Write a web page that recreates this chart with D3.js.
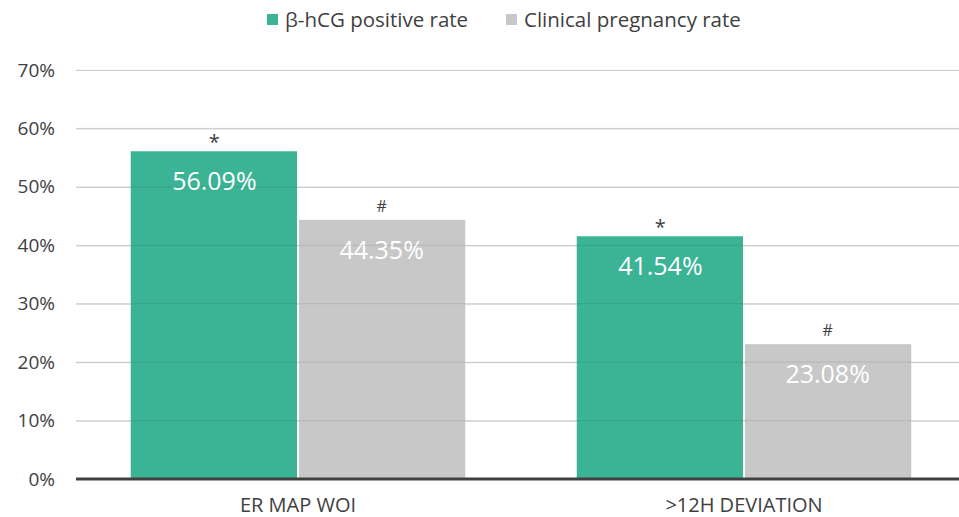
<!DOCTYPE html>
<html><head><meta charset="utf-8">
<script src="https://cdn.jsdelivr.net/npm/d3@7"></script>
<style>body{margin:0;background:#fff}svg{display:block}text{font-family:"Open Sans",sans-serif}</style>
</head><body><svg id="c" width="959" height="517"></svg>
<script>
const categories = ["ER MAP WOI", ">12H DEVIATION"];
const seriesNames = ["β-hCG positive rate", "Clinical pregnancy rate"];
const hcgValues = [56.09, 41.54];
const clinicalValues = [44.35, 23.08];
const markers = ["*", "#"];
const yTicks = [0, 10, 20, 30, 40, 50, 60, 70];
const colors = ["#3bb395", "#c8c8c8"];

const svg = d3.select("#c");
const W = 959, H = 517;
const y = d3.scaleLinear().domain([0, 70]).range([479, 70]);
const x0 = d3.scaleBand().domain(categories).range([75, 967]).paddingInner(0.25).paddingOuter(0.125);
const x1 = d3.scaleBand().domain([0, 1]).range([0, x0.bandwidth()]);

// grid
const gAxis = svg.append("g").attr("transform", "translate(76,0)")
  .call(d3.axisLeft(y).tickValues(yTicks).tickSize(-(W - 76)).tickFormat(d => d + "%"));
gAxis.select(".domain").remove();
gAxis.selectAll(".tick line").attr("stroke", "#d6d6d6").attr("stroke-width", 1.2);
gAxis.selectAll(".tick text").attr("x", -21).attr("fill", "#404040").style("font-size", "19px");

const data = categories.map((c, i) => ({cat: c, vals: [hcgValues[i], clinicalValues[i]]}));
const groups = svg.selectAll(".grp").data(data).enter().append("g")
  .attr("transform", d => `translate(${x0(d.cat)},0)`);
groups.selectAll("rect").data(d => d.vals.map((v, k) => ({v, k}))).enter().append("rect")
  .attr("x", d => x1(d.k) + (d.k === 1 ? 1 : 0))
  .attr("width", d => x1.bandwidth() - 1)
  .attr("y", d => y(d.v))
  .attr("height", d => y(0) - y(d.v))
  .attr("fill", d => colors[d.k]);

// faint gridlines showing through bars
svg.append("g").selectAll("line").data(yTicks.filter(t => t > 0)).enter().append("line")
  .attr("x1", 76).attr("x2", W).attr("y1", d => y(d)).attr("y2", d => y(d))
  .attr("stroke", "rgba(0,0,0,0.07)").attr("stroke-width", 1.2);

groups.selectAll(".val").data(d => d.vals.map((v, k) => ({v, k}))).enter().append("text")
  .attr("x", d => x1(d.k) + x1.bandwidth() / 2)
  .attr("y", d => y(d.v) + 39)
  .attr("text-anchor", "middle").attr("fill", "#fff").style("font-size", "25px")
  .text(d => d.v.toFixed(2) + "%");
groups.selectAll(".mk").data(d => d.vals.map((v, k) => ({v, k}))).enter().append("text")
  .attr("x", d => x1(d.k) + x1.bandwidth() / 2)
  .attr("y", d => y(d.v) - (d.k === 0 ? 2 : 8))
  .attr("text-anchor", "middle").attr("fill", "#404040").style("font-size", d => d.k === 0 ? "20px" : "16px")
  .text(d => markers[d.k]);

// baseline
svg.append("line").attr("x1", 76).attr("x2", W).attr("y1", y(0)).attr("y2", y(0))
  .attr("stroke", "#404040").attr("stroke-width", 3);

// category labels
svg.selectAll(".cat").data(categories).enter().append("text")
  .attr("x", d => x0(d) + x0.bandwidth() / 2).attr("y", 512)
  .attr("text-anchor", "middle").attr("fill", "#404040").style("font-size", "20px")
  .text(d => d);

// legend
const legX = [267, 506];
const leg = svg.selectAll(".leg").data(seriesNames).enter().append("g")
  .attr("transform", (d, i) => `translate(${legX[i]},0)`);
leg.append("rect").attr("x", 0).attr("y", 14).attr("width", 11).attr("height", 11).attr("fill", (d, i) => colors[i]);
leg.append("text").attr("x", 18).attr("y", 27).attr("fill", "#404040").style("font-size", "20.5px").text(d => d);
</script></body></html>
